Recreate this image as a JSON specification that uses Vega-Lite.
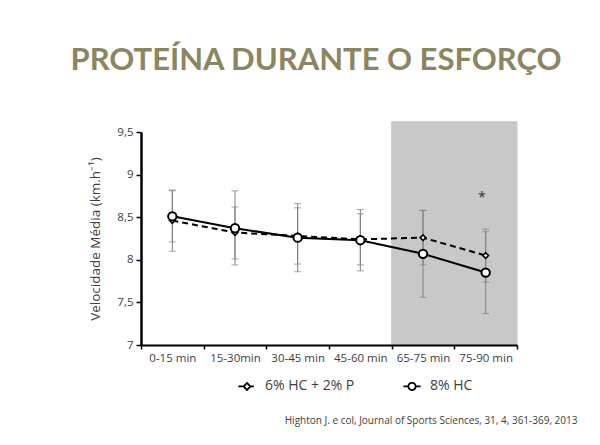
{
  "$schema": "https://vega.github.io/schema/vega-lite/v6.json",
  "width": 376,
  "height": 213,
  "autosize": {"type": "none"},
  "padding": {"left": 141, "top": 132, "right": 83, "bottom": 100},
  "background": "white",
  "title": {
    "text": "PROTEÍNA DURANTE O ESFORÇO",
    "font": "Lato",
    "fontSize": 31,
    "fontWeight": "bold",
    "color": "#8b8661",
    "anchor": "middle",
    "frame": "group",
    "baseline": "alphabetic",
    "offset": 20,
    "dx": -13
  },
  "config": {
    "view": {"stroke": null},
    "font": "Open Sans"
  },
  "datasets": {
    "pts": [
      {"series": "8% HC", "time": "0-15 min", "mean": 8.51, "lo": 8.21, "hi": 8.81},
      {"series": "8% HC", "time": "15-30min", "mean": 8.37, "lo": 7.94, "hi": 8.81},
      {"series": "8% HC", "time": "30-45 min", "mean": 8.26, "lo": 7.86, "hi": 8.66},
      {"series": "8% HC", "time": "45-60 min", "mean": 8.23, "lo": 7.87, "hi": 8.59},
      {"series": "8% HC", "time": "65-75 min", "mean": 8.07, "lo": 7.56, "hi": 8.58},
      {"series": "8% HC", "time": "75-90 min", "mean": 7.85, "lo": 7.37, "hi": 8.33},
      {"series": "6% HC + 2% P", "time": "0-15 min", "mean": 8.46, "lo": 8.10, "hi": 8.82},
      {"series": "6% HC + 2% P", "time": "15-30min", "mean": 8.32, "lo": 8.01, "hi": 8.62},
      {"series": "6% HC + 2% P", "time": "30-45 min", "mean": 8.28, "lo": 7.95, "hi": 8.61},
      {"series": "6% HC + 2% P", "time": "45-60 min", "mean": 8.24, "lo": 7.94, "hi": 8.54},
      {"series": "6% HC + 2% P", "time": "65-75 min", "mean": 8.26, "lo": 7.94, "hi": 8.58},
      {"series": "6% HC + 2% P", "time": "75-90 min", "mean": 8.05, "lo": 7.74, "hi": 8.36}
    ],
    "shade": [
      {"time": "65-75 min"},
      {"time": "75-90 min"}
    ],
    "note": [
      {"time": "75-90 min", "y": 8.72, "label": "*"}
    ]
  },
  "layer": [
    {
      "data": {"name": "shade"},
      "mark": {"type": "rect", "color": "#c8c8c8", "stroke": "#c8c8c8", "strokeWidth": 1, "clip": false},
      "encoding": {
        "x": {"field": "time", "type": "nominal"},
        "y": {"datum": 7, "type": "quantitative"},
        "y2": {"datum": 9.62}
      }
    },
    {
      "data": {"name": "pts"},
      "mark": {"type": "rule", "color": "#808080", "strokeWidth": 1},
      "encoding": {
        "x": {"field": "time", "type": "nominal"},
        "y": {"field": "lo", "type": "quantitative"},
        "y2": {"field": "hi"}
      }
    },
    {
      "data": {"name": "pts"},
      "mark": {"type": "tick", "color": "#808080", "size": 7, "thickness": 1},
      "encoding": {
        "x": {"field": "time", "type": "nominal"},
        "y": {"field": "lo", "type": "quantitative"}
      }
    },
    {
      "data": {"name": "pts"},
      "mark": {"type": "tick", "color": "#808080", "size": 7, "thickness": 1},
      "encoding": {
        "x": {"field": "time", "type": "nominal"},
        "y": {"field": "hi", "type": "quantitative"}
      }
    },
    {
      "data": {"name": "pts"},
      "transform": [{"filter": "datum.series === '6% HC + 2% P'"}],
      "mark": {"type": "line", "strokeWidth": 2, "strokeDash": [6, 4]},
      "encoding": {
        "x": {"field": "time", "type": "nominal"},
        "y": {"field": "mean", "type": "quantitative"},
        "color": {
          "field": "series",
          "type": "nominal",
          "scale": {"domain": ["6% HC + 2% P", "8% HC"], "range": ["black", "black"]},
          "legend": {
            "orient": "none",
            "legendX": 96,
            "legendY": 244,
            "direction": "horizontal",
            "title": null,
            "labelFont": "Open Sans",
            "labelFontSize": 14,
            "labelColor": "#404040",
            "labelOffset": 8,
            "columnPadding": 44,
            "symbolSize": 300,
            "symbolStrokeWidth": 1.8,
            "encode": {
              "symbols": {
                "update": {
                  "shape": {"signal": "datum.value === '8% HC' ? 'M-1,0L-0.42,0M0.42,0L1,0M-0.42,0A0.42,0.42,0,1,1,0.42,0A0.42,0.42,0,1,1,-0.42,0Z' : 'M-1,0L-0.4,0M0.4,0L0.8,0M0,-0.4L0.4,0L0,0.4L-0.4,0Z'"},
                  "fill": {"value": "white"},
                  "stroke": {"value": "black"},
                  "strokeDash": {"value": [1, 0]}
                }
              }
            }
          }
        }
      }
    },
    {
      "data": {"name": "pts"},
      "transform": [{"filter": "datum.series === '8% HC'"}],
      "mark": {"type": "line", "strokeWidth": 2},
      "encoding": {
        "x": {"field": "time", "type": "nominal"},
        "y": {"field": "mean", "type": "quantitative"},
        "color": {"field": "series", "type": "nominal"}
      }
    },
    {
      "data": {"name": "pts"},
      "transform": [{"filter": "datum.series === '6% HC + 2% P'"}],
      "mark": {"type": "point", "shape": "diamond", "size": 32, "strokeWidth": 1.6, "filled": true, "fill": "white", "stroke": "black", "opacity": 1},
      "encoding": {
        "x": {"field": "time", "type": "nominal"},
        "y": {"field": "mean", "type": "quantitative"}
      }
    },
    {
      "data": {"name": "pts"},
      "transform": [{"filter": "datum.series === '8% HC'"}],
      "mark": {"type": "point", "shape": "circle", "size": 70, "strokeWidth": 2, "filled": true, "fill": "white", "stroke": "black", "opacity": 1},
      "encoding": {
        "x": {"field": "time", "type": "nominal"},
        "y": {"field": "mean", "type": "quantitative"}
      }
    },
    {
      "data": {"name": "note"},
      "mark": {"type": "text", "fontSize": 14, "color": "#303030", "baseline": "middle", "align": "right"},
      "encoding": {
        "x": {"field": "time", "type": "nominal"},
        "y": {"field": "y", "type": "quantitative"},
        "text": {"field": "label"}
      }
    }
  ],
  "encoding": {
    "x": {
      "field": "time",
      "type": "nominal",
      "sort": null,
      "scale": {
        "type": "band",
        "domain": ["0-15 min", "15-30min", "30-45 min", "45-60 min", "65-75 min", "75-90 min"],
        "paddingInner": 0,
        "paddingOuter": 0
      },
      "axis": {
        "title": "Highton J. e col, Journal of Sports Sciences, 31, 4, 361-369, 2013",
        "titleFont": "Open Sans",
        "titleFontSize": 10,
        "titleFontWeight": "normal",
        "titleColor": "#404040",
        "titleX": 436,
        "titleY": 75,
        "titleAlign": "right",
        "titleBaseline": "middle",
        "labelAngle": 0,
        "labelFont": "Open Sans",
        "labelFontSize": 11.5,
        "labelColor": "#404040",
        "labelPadding": 3,
        "tickBand": "extent",
        "tickColor": "black",
        "tickWidth": 1.5,
        "tickSize": 4,
        "domainColor": "black",
        "domainWidth": 2,
        "grid": false
      }
    },
    "y": {
      "type": "quantitative",
      "scale": {"domain": [7, 9.5], "nice": false, "zero": false},
      "axis": {
        "title": "Velocidade Média (km.h⁻¹)",
        "titleFont": "Open Sans",
        "titleFontSize": 13.5,
        "titleFontWeight": "normal",
        "titleColor": "#404040",
        "titlePadding": 14,
        "values": [7, 7.5, 8, 8.5, 9, 9.5],
        "labelExpr": "replace(format(datum.value, '~g'), '.', ',')",
        "labelFont": "Open Sans",
        "labelFontSize": 11.5,
        "labelColor": "#404040",
        "labelPadding": 3,
        "tickColor": "black",
        "tickWidth": 1.5,
        "tickSize": 5,
        "domainColor": "black",
        "domainWidth": 2.5,
        "grid": false
      }
    }
  }
}
